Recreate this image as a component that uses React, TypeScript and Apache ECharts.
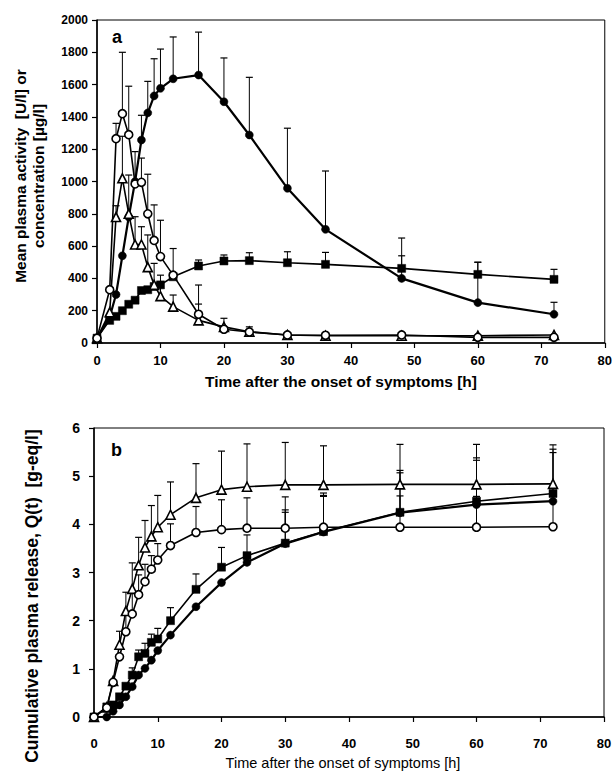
import React, { useEffect, useRef } from "react";
import * as echarts from "echarts";

const times = [0, 2, 3, 4, 5, 6, 7, 8, 9, 10, 12, 16, 20, 24, 30, 36, 48, 60, 72];

// Panel a: mean plasma activity / concentration
const aFilledCircle = [30, 160, 300, 540, 780, 1000, 1257, 1425, 1530, 1577, 1636, 1659, 1494, 1288, 958, 704, 400, 250, 178];
const aFilledCircleTop = [null, null, null, null, null, null, 1410, 1620, 1760, 1820, 1895, 1925, 1765, 1645, 1330, 1065, 650, 500, 252];
const aOpenCircle = [30, 330, 1265, 1420, 1290, 985, 995, 800, 635, 535, 420, 178, 85, 68, 50, 48, 50, 35, 35];
const aOpenCircleTop = [null, null, 1360, 1800, 1590, 1185, 1145, 1045, 855, 760, 585, 359, 153, 100, null, null, null, null, null];
const aTriangle = [30, 190, 780, 1020, 800, 610, 610, 470, 360, 290, 225, 140, 100, 70, 50, 45, 45, 45, 50];
const aTriangleTop = [null, null, 850, 1280, 1040, 782, 720, 669, 493, 420, 297, 241, null, null, null, null, null, null, null];
const aSquare = [30, 140, 165, 200, 240, 265, 325, 330, 350, 360, 410, 477, 508, 510, 497, 487, 462, 425, 394];
const aSquareTop = [null, null, null, null, null, null, null, null, null, null, null, 514, 545, 559, 565, 561, 540, 500, 456];

// Panel b: cumulative plasma release
const bTriangle = [0, 0.2, 0.75, 1.5, 2.2, 2.66, 3.15, 3.52, 3.75, 3.94, 4.2, 4.55, 4.72, 4.78, 4.82, 4.82, 4.83, 4.83, 4.84];
const bTriangleTop = [null, null, null, 1.78, 2.59, 3.2, 3.73, 4.08, 4.39, 4.6, 4.88, 5.26, 5.52, 5.67, 5.7, 5.63, 5.66, 5.66, 5.65];
const bOpenCircle = [0, 0.19, 0.72, 1.25, 1.77, 2.14, 2.54, 2.81, 3.07, 3.26, 3.56, 3.83, 3.89, 3.92, 3.92, 3.94, 3.94, 3.94, 3.95];
const bOpenCircleTop = [null, null, null, null, 2.15, 2.6, 2.95, 3.17, 3.35, 3.6, 4.01, 4.37, 4.51, 4.55, 4.57, 4.6, 4.59, 4.58, 4.6];
const bSquare = [0, 0.21, 0.25, 0.42, 0.64, 0.87, 1.25, 1.32, 1.55, 1.62, 2.0, 2.65, 3.11, 3.35, 3.61, 3.85, 4.25, 4.48, 4.64];
const bSquareTop = [null, null, null, null, null, 1.02, 1.39, 1.53, 1.72, 1.84, 2.27, 2.97, 3.52, 3.78, 4.3, 4.65, 5.12, 5.38, 5.56];
const bFilledCircle = [0, 0, 0.12, 0.25, 0.42, 0.63, 0.87, 1.01, 1.18, 1.38, 1.7, 2.29, 2.79, 3.21, 3.6, 3.84, 4.24, 4.41, 4.48];
const bFilledCircleTop = [null, null, null, null, null, null, null, null, null, null, null, null, null, null, 4.25, 4.58, 5.07, 5.33, 5.49];

const FONT = "Liberation Sans, Arial, sans-serif";

function pts(vals: number[]) {
  return times.map((t, i) => [t, vals[i]]);
}
function errPts(vals: number[], tops: (number | null)[]) {
  const out: number[][] = [];
  times.forEach((t, i) => {
    const top = tops[i];
    if (top !== null && top !== undefined) out.push([t, vals[i], top]);
  });
  return out;
}

const renderErr = (params: any, api: any) => {
  const p0 = api.coord([api.value(0), api.value(1)]);
  const p1 = api.coord([api.value(0), api.value(2)]);
  return {
    type: "group",
    children: [
      { type: "line", shape: { x1: p0[0], y1: p0[1], x2: p1[0], y2: p1[1] }, style: { stroke: "#000", lineWidth: 1 } },
      { type: "line", shape: { x1: p1[0] - 3.5, y1: p1[1], x2: p1[0] + 3.5, y2: p1[1] }, style: { stroke: "#000", lineWidth: 1.2 } },
    ],
  };
};

type Kind = "fc" | "oc" | "tri" | "sq";
function lineSeries(kind: Kind, vals: number[], idx: number) {
  const filled = kind === "fc" || kind === "sq";
  const symbol = kind === "tri" ? "triangle" : kind === "sq" ? "rect" : "circle";
  return {
    type: "line",
    xAxisIndex: idx,
    yAxisIndex: idx,
    data: pts(vals),
    symbol,
    symbolSize: kind === "tri" ? 9 : 8,
    showAllSymbol: true,
    z: filled ? 4 : 5,
    lineStyle: { color: "#000", width: kind === "fc" ? 2.2 : 1.6 },
    itemStyle: filled
      ? { color: "#000", borderColor: "#000", borderWidth: 0.5 }
      : { color: "#fff", borderColor: "#000", borderWidth: 1.6 },
  };
}
function errSeries(vals: number[], tops: (number | null)[], idx: number) {
  return {
    type: "custom",
    xAxisIndex: idx,
    yAxisIndex: idx,
    data: errPts(vals, tops),
    renderItem: renderErr,
    z: 2,
    silent: true,
  };
}

export default function App() {
  const ref = useRef<HTMLDivElement>(null);
  useEffect(() => {
    if (!ref.current) return;
    const chart = echarts.init(ref.current, undefined, { renderer: "svg" });
    const axisLabelStyle = { color: "#000", fontFamily: FONT, fontWeight: "bold" as const, fontSize: 13, formatter: (v: number) => String(v) };
    const xAxisCommon = {
      type: "value",
      min: 0,
      max: 80,
      interval: 10,
      splitLine: { show: false },
      axisLine: { show: true, onZero: false, lineStyle: { color: "#000", width: 1.5 } },
      axisTick: { show: true, length: 5, lineStyle: { color: "#000", width: 1.2 } },
    };
    const option: any = {
      animation: false,
      backgroundColor: "#fff",
      grid: [
        { left: 97, top: 20, width: 508, height: 323, show: true, borderColor: "#000", borderWidth: 1, backgroundColor: "transparent" },
        { left: 94, top: 428, width: 510, height: 289, show: true, borderColor: "#000", borderWidth: 1, backgroundColor: "transparent" },
      ],
      xAxis: [
        { ...xAxisCommon, gridIndex: 0, axisLabel: { ...axisLabelStyle, margin: 11 } },
        { ...xAxisCommon, gridIndex: 1, axisLabel: { ...axisLabelStyle, margin: 20 } },
      ],
      yAxis: [
        {
          type: "value", gridIndex: 0, min: 0, max: 2000, interval: 200,
          splitLine: { show: false },
          axisLine: { show: true, lineStyle: { color: "#000", width: 1.5 } },
          axisTick: { show: true, length: 5, lineStyle: { color: "#000", width: 1.2 } },
          axisLabel: { ...axisLabelStyle, fontSize: 12, margin: 9 },
        },
        {
          type: "value", gridIndex: 1, min: 0, max: 6, interval: 1,
          splitLine: { show: false },
          axisLine: { show: true, lineStyle: { color: "#000", width: 1.5 } },
          axisTick: { show: true, length: 5, lineStyle: { color: "#000", width: 1.2 } },
          axisLabel: { ...axisLabelStyle, fontSize: 14, margin: 14 },
        },
      ],
      graphic: [
        { type: "text", left: 112, top: 28, style: { text: "a", fontSize: 18, fontWeight: "bold", fontFamily: FONT, fill: "#000" } },
        { type: "text", left: 111, top: 441, style: { text: "b", fontSize: 18, fontWeight: "bold", fontFamily: FONT, fill: "#000" } },
        {
          type: "text", x: 29, y: 176, rotation: Math.PI / 2,
          style: { text: "Mean plasma activity  [U/l] or\nconcentration [µg/l]", fontSize: 15.5, fontWeight: "bold", fontFamily: FONT, fill: "#000", textAlign: "center", textVerticalAlign: "middle", lineHeight: 18 },
        },
        {
          type: "text", x: 32, y: 596, rotation: Math.PI / 2,
          style: { text: "Cumulative plasma release, Q(t)  [g-eq/l]", fontSize: 17.5, fontWeight: "bold", fontFamily: FONT, fill: "#000", textAlign: "center", textVerticalAlign: "middle" },
        },
        {
          type: "text", x: 341, y: 381,
          style: { text: "Time after the onset of symptoms [h]", fontSize: 15.5, fontWeight: "bold", fontFamily: FONT, fill: "#000", textAlign: "center", textVerticalAlign: "middle" },
        },
        {
          type: "text", x: 343, y: 763,
          style: { text: "Time after the onset of symptoms [h]", fontSize: 14.5, fontFamily: FONT, fill: "#000", textAlign: "center", textVerticalAlign: "middle" },
        },
      ],
      series: [
        errSeries(aFilledCircle, aFilledCircleTop, 0),
        errSeries(aOpenCircle, aOpenCircleTop, 0),
        errSeries(aTriangle, aTriangleTop, 0),
        errSeries(aSquare, aSquareTop, 0),
        lineSeries("sq", aSquare, 0),
        lineSeries("fc", aFilledCircle, 0),
        lineSeries("tri", aTriangle, 0),
        lineSeries("oc", aOpenCircle, 0),
        errSeries(bTriangle, bTriangleTop, 1),
        errSeries(bOpenCircle, bOpenCircleTop, 1),
        errSeries(bSquare, bSquareTop, 1),
        errSeries(bFilledCircle, bFilledCircleTop, 1),
        lineSeries("fc", bFilledCircle, 1),
        lineSeries("sq", bSquare, 1),
        lineSeries("tri", bTriangle, 1),
        lineSeries("oc", bOpenCircle, 1),
      ],
    };
    chart.setOption(option);
    return () => chart.dispose();
  }, []);
  return <div ref={ref} style={{ position: "absolute", left: 0, top: 0, width: 615, height: 774, background: "#fff" }} />;
}
